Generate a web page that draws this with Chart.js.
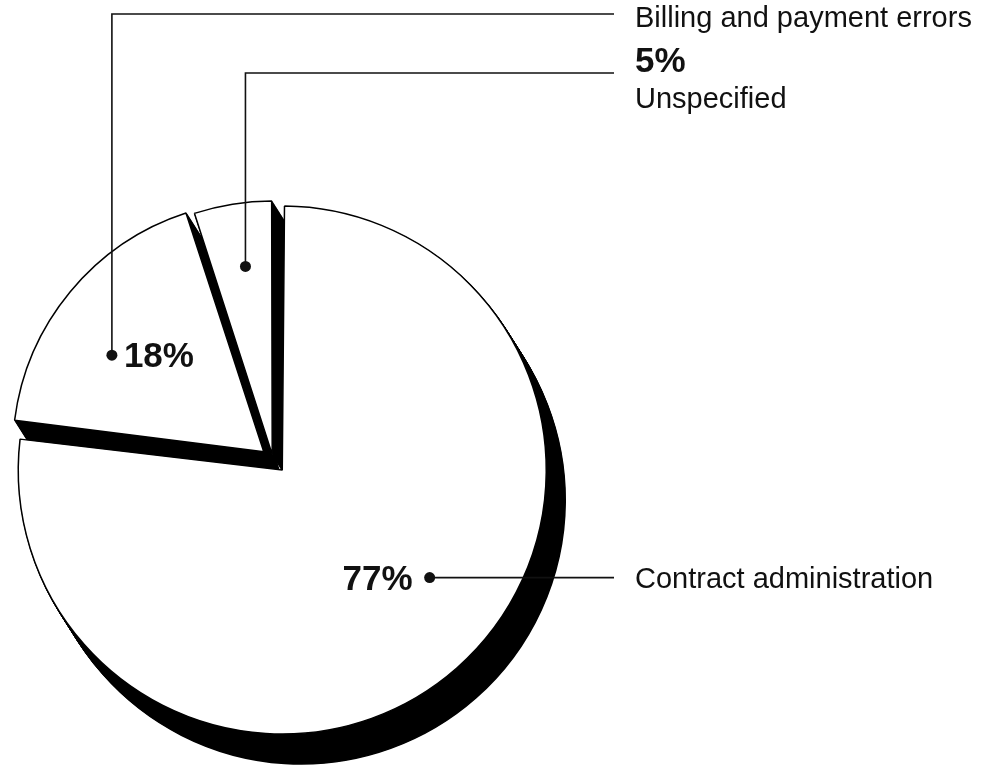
<!DOCTYPE html>
<html><head><meta charset="utf-8">
<script src="https://cdn.jsdelivr.net/npm/chart.js@4.4.0/dist/chart.umd.min.js"></script>
<style>
 html, body { margin:0; padding:0; background:#fff; }
</style>
</head>
<body>
<canvas id="myChart" width="992" height="767"></canvas>
<script>
// chart data
var categories = ['Contract administration', 'Billing and payment errors', 'Unspecified'];
var shares = [77, 18, 5];

var FONT = '"Liberation Sans", Arial, Helvetica, sans-serif';
var INK = '#111';

// solid black extrusion under every slice, drawn before the slices
var dropShadow = {
  id: 'dropShadow',
  beforeDatasetsDraw: function(chart) {
    var ctx = chart.ctx;
    var arcs = chart.getDatasetMeta(0).data;
    var dx = 19, dy = 30, steps = 30;
    arcs.forEach(function(arc) {
      var ghost = Object.create(arc);
      ghost.options = Object.assign({}, arc.options, {backgroundColor: '#000', borderColor: '#000'});
      for (var k = 1; k <= steps; k++) {
        ctx.save();
        ctx.translate(dx * k / steps, dy * k / steps);
        ghost.draw(ctx);
        ctx.restore();
      }
    });
  }
};

// point inside a slice: fa = fraction of its angle, fr = fraction of its radius
function slicePoint(arc, fa, fr) {
  var p = arc.getProps(['x', 'y', 'startAngle', 'endAngle', 'outerRadius'], true);
  var off = (arc.options.offset || 0) / 4;
  var half = (p.startAngle + p.endAngle) / 2;
  var a = p.startAngle + fa * (p.endAngle - p.startAngle);
  return {
    x: p.x + Math.cos(half) * off + Math.cos(a) * fr * p.outerRadius,
    y: p.y + Math.sin(half) * off + Math.sin(a) * fr * p.outerRadius
  };
}

function dot(ctx, p) {
  ctx.beginPath();
  ctx.arc(p.x, p.y, 5.5, 0, Math.PI * 2);
  ctx.fill();
}

var callouts = {
  id: 'callouts',
  afterDatasetsDraw: function(chart) {
    var ctx = chart.ctx;
    var arcs = chart.getDatasetMeta(0).data;
    var lineEnd = 614, textX = 635;
    var bold = 'bold 35px ' + FONT, normal = '29px ' + FONT;
    ctx.save();
    ctx.strokeStyle = INK;
    ctx.fillStyle = INK;
    ctx.lineWidth = 1.6;
    ctx.textBaseline = 'alphabetic';

    // 77% - contract administration
    var p0 = slicePoint(arcs[0], 0.455, 0.73);
    ctx.beginPath(); ctx.moveTo(p0.x, p0.y); ctx.lineTo(lineEnd, p0.y); ctx.stroke();
    dot(ctx, p0);
    ctx.font = bold; ctx.textAlign = 'right';
    ctx.fillText(shares[0] + '%', p0.x - 17, p0.y + 12);
    ctx.font = normal; ctx.textAlign = 'left';
    ctx.fillText(categories[0], textX, p0.y + 10);

    // 18% - billing
    var p1 = slicePoint(arcs[1], 0.39, 0.72);
    ctx.beginPath(); ctx.moveTo(p1.x, p1.y); ctx.lineTo(p1.x, 14); ctx.lineTo(lineEnd, 14); ctx.stroke();
    dot(ctx, p1);
    ctx.font = bold; ctx.textAlign = 'left';
    ctx.fillText(shares[1] + '%', p1.x + 12, p1.y + 12);
    ctx.font = normal;
    ctx.fillText(categories[1], textX, 27);

    // 5% - unspecified
    var p2 = slicePoint(arcs[2], 0.55, 0.76);
    ctx.beginPath(); ctx.moveTo(p2.x, p2.y); ctx.lineTo(p2.x, 73); ctx.lineTo(lineEnd, 73); ctx.stroke();
    dot(ctx, p2);
    ctx.font = bold;
    ctx.fillText(shares[2] + '%', textX, 72);
    ctx.font = normal;
    ctx.fillText(categories[2], textX, 108);
    ctx.restore();
  }
};

var ctx = document.getElementById('myChart');
var myChart = new Chart(ctx, {
  type: 'pie',
  data: {
    labels: categories,
    datasets: [{
      data: shares,
      backgroundColor: '#fff',
      borderColor: '#000',
      borderWidth: 1.5,
      offset: [56, 48, 20],
      clip: false
    }]
  },
  options: {
    responsive: false,
    animation: false,
    devicePixelRatio: 1,
    radius: 250,
    layout: { padding: { left: 0, right: 446, top: 152, bottom: 0 } },
    plugins: {
      legend: { display: false },
      tooltip: { enabled: false }
    }
  },
  plugins: [dropShadow, callouts]
});
</script>
</body></html>
